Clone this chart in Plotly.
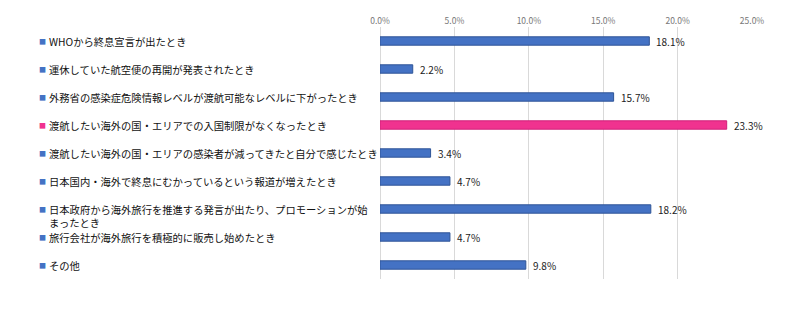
import plotly.graph_objects as go

categories = [
    "WHOから終息宣言が出たとき",
    "運休していた航空便の再開が発表されたとき",
    "外務省の感染症危険情報レベルが渡航可能なレベルに下がったとき",
    "渡航したい海外の国・エリアでの入国制限がなくなったとき",
    "渡航したい海外の国・エリアの感染者が減ってきたと自分で感じたとき",
    "日本国内・海外で終息にむかっているという報道が増えたとき",
    "日本政府から海外旅行を推進する発言が出たり、プロモーションが始<br>まったとき",
    "旅行会社が海外旅行を積極的に販売し始めたとき",
    "その他",
]
values = [18.1, 2.2, 15.7, 23.3, 3.4, 4.7, 18.2, 4.7, 9.8]
tick_vals = [0, 5, 10, 15, 20, 25]
tick_text = ["0.0%", "5.0%", "10.0%", "15.0%", "20.0%", "25.0%"]

BLUE = "#4472C4"
BLUE_EDGE = "#2F5597"
PINK = "#F0328F"
PINK_EDGE = "#D0207A"
highlight = 3

colors = [PINK if i == highlight else BLUE for i in range(len(values))]
edges = [PINK_EDGE if i == highlight else BLUE_EDGE for i in range(len(values))]
ypos = list(range(len(values)))

fig = go.Figure()
fig.add_trace(go.Bar(
    x=values, y=ypos, orientation="h",
    marker=dict(color=colors, line=dict(color=edges, width=1)),
    width=0.3,
    cliponaxis=False,
))

annotations = []
for i, (c, col, v) in enumerate(zip(categories, colors, values)):
    two_line = "<br>" in c
    annotations.append(dict(
        x=-0.921, xref="paper", y=i, yref="y",
        xanchor="left", yanchor="middle",
        text="■", showarrow=False,
        font=dict(size=7, color=col, family="Noto Sans CJK JP"),
    ))
    annotations.append(dict(
        x=-0.895, xref="paper", y=i, yref="y",
        xanchor="left", yanchor="middle", align="left",
        text=c, showarrow=False,
        yshift=-7 if two_line else 0,
        font=dict(size=10.3, color="#111111", family="Noto Sans CJK JP"),
    ))
    annotations.append(dict(
        x=v, xref="x", y=i, yref="y",
        xanchor="left", yanchor="middle",
        text=f"{v:.1f}%", showarrow=False, xshift=5,
        font=dict(size=10, color="#222222", family="Noto Sans CJK JP"),
    ))

fig.update_layout(
    width=800, height=322,
    margin=dict(l=380, r=48, t=27, b=43),
    paper_bgcolor="white", plot_bgcolor="white",
    showlegend=False,
    annotations=annotations,
    xaxis=dict(
        range=[0, 25], side="top",
        tickvals=tick_vals, ticktext=tick_text,
        tickfont=dict(size=8.5, color="#777777", family="Noto Sans CJK JP"),
        showgrid=True, gridcolor="#D9D9D9", gridwidth=1,
        zeroline=True, zerolinecolor="#D9D9D9", zerolinewidth=1,
        showline=False, ticks="",
    ),
    yaxis=dict(
        range=[len(values) - 0.5, -0.5],
        showticklabels=False, showgrid=False, zeroline=False, ticks="",
    ),
)

fig.write_html("out.html")
